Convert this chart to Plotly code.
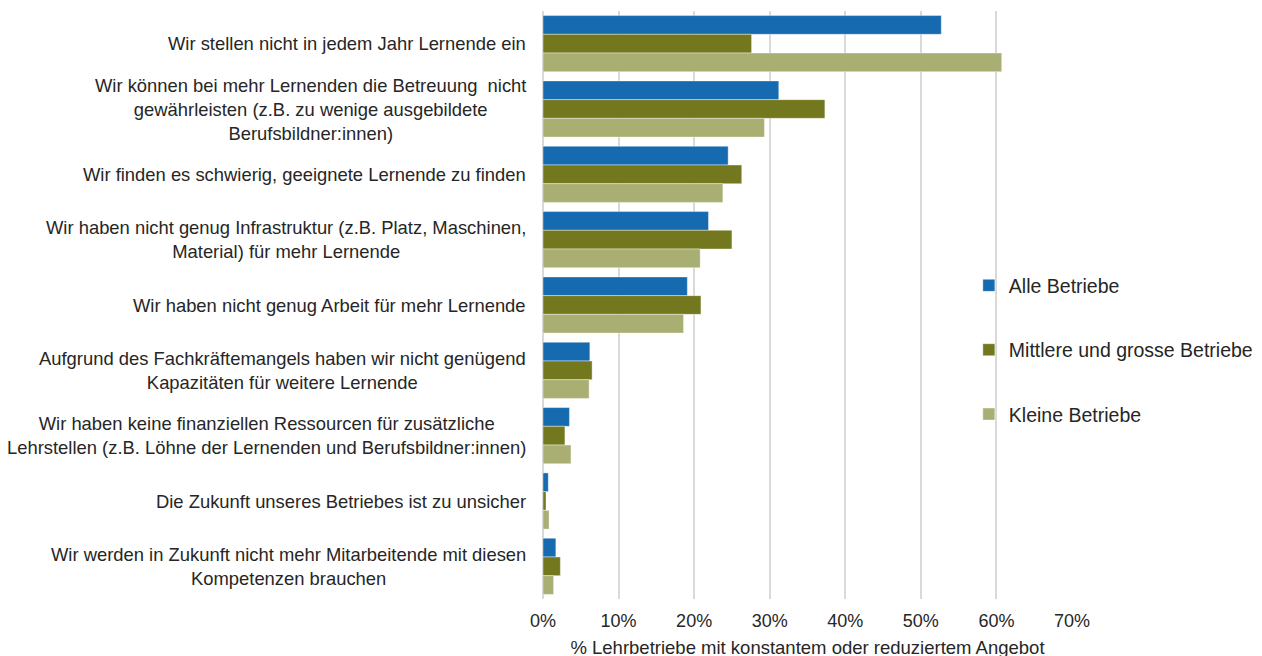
import plotly.graph_objects as go

categories = [
    "Wir stellen nicht in jedem Jahr Lernende ein",
    "Wir können bei mehr Lernenden die Betreuung  nicht<br>gewährleisten (z.B. zu wenige ausgebildete<br>Berufsbildner:innen)",
    "Wir finden es schwierig, geeignete Lernende zu finden",
    "Wir haben nicht genug Infrastruktur (z.B. Platz, Maschinen,<br>Material) für mehr Lernende",
    "Wir haben nicht genug Arbeit für mehr Lernende",
    "Aufgrund des Fachkräftemangels haben wir nicht genügend<br>Kapazitäten für weitere Lernende",
    "Wir haben keine finanziellen Ressourcen für zusätzliche<br>Lehrstellen (z.B. Löhne der Lernenden und Berufsbildner:innen)",
    "Die Zukunft unseres Betriebes ist zu unsicher",
    "Wir werden in Zukunft nicht mehr Mitarbeitende mit diesen<br>Kompetenzen brauchen",
]
alle = [52.7, 31.2, 24.5, 21.9, 19.1, 6.2, 3.5, 0.7, 1.7]
mittlere = [27.6, 37.3, 26.3, 25.0, 20.9, 6.5, 2.9, 0.4, 2.3]
kleine = [60.7, 29.3, 23.8, 20.8, 18.6, 6.1, 3.7, 0.8, 1.4]
series_names = ["Alle Betriebe", "Mittlere und grosse Betriebe", "Kleine Betriebe"]
colors = ["#156AB0", "#73781F", "#A9AE73"]
tick_vals = [0, 10, 20, 30, 40, 50, 60, 70]
tick_text = ["0%", "10%", "20%", "30%", "40%", "50%", "60%", "70%"]

fig = go.Figure()
for i, (name, vals) in enumerate(zip(series_names, [alle, mittlere, kleine])):
    fig.add_trace(go.Bar(
        y=categories, x=vals, name=name, orientation="h",
        marker=dict(color=colors[i], line=dict(color="rgba(255,255,255,0.4)", width=1)),
        legendgroup=f"g{i}",
    ))

# category labels, centred per line like the reference
for cat in categories:
    fig.add_annotation(
        xref="paper", x=0, xanchor="right", xshift=-15,
        yref="y", y=cat, yanchor="middle",
        text=cat, align="center", showarrow=False,
        font=dict(size=18.4, color="#262626"),
    )

fig.update_layout(
    width=1262, height=656,
    barmode="group", bargap=0.14, bargroupgap=0,
    plot_bgcolor="white", paper_bgcolor="white",
    margin=dict(l=535, r=198, t=3, b=65, autoexpand=False),
    font=dict(family="Liberation Sans, Arial, sans-serif", size=18, color="#262626"),
    showlegend=True,
    legend=dict(
        x=0.805, y=0.566, xanchor="left", yanchor="top",
        bgcolor="rgba(0,0,0,0)", font=dict(size=19.5, color="#262626"),
        tracegroupgap=36, itemwidth=30, traceorder="grouped",
    ),
    xaxis=dict(
        range=[0, 70], tickvals=tick_vals, ticktext=tick_text,
        showgrid=True, gridcolor="#D9D9D9", gridwidth=1.5,
        zeroline=True, zerolinecolor="#D9D9D9", zerolinewidth=1.5,
        showline=False, tickfont=dict(size=18), automargin=False,
        ticklabelstandoff=9,
        title=dict(text="% Lehrbetriebe mit konstantem oder reduziertem Angebot",
                   font=dict(size=18.5), standoff=11),
    ),
    yaxis=dict(
        autorange="reversed", showgrid=False, showline=False,
        ticks="", showticklabels=False, automargin=False,
    ),
)

fig.write_html("out.html")
